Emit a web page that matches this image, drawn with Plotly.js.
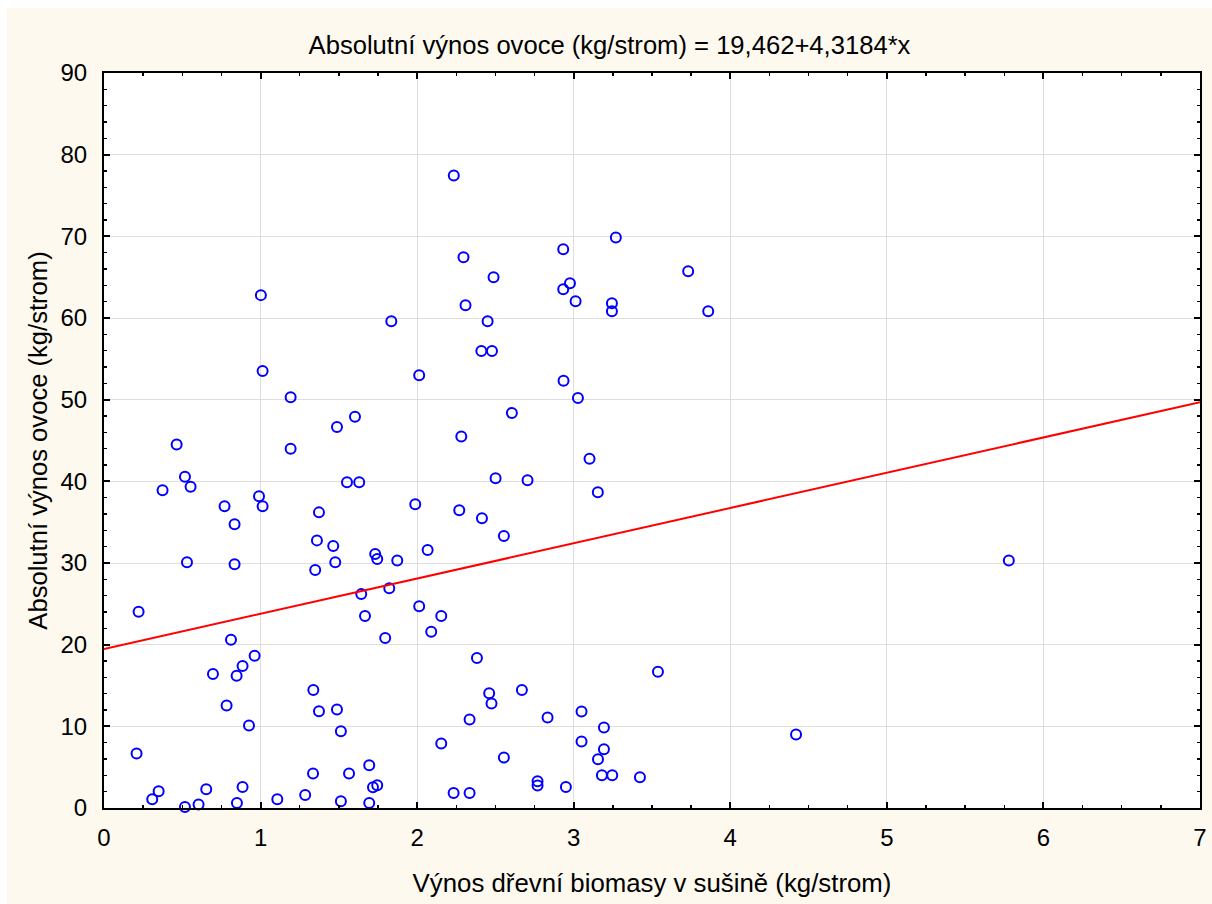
<!DOCTYPE html>
<html>
<head>
<meta charset="utf-8">
<script src="https://cdn.plot.ly/plotly-3.0.1.min.js"></script>
<style>
html,body{margin:0;padding:0;background:#ffffff;width:1212px;height:904px;overflow:hidden;}
#chart{position:absolute;left:7px;top:8px;width:1205px;height:896px;}
</style>
</head>
<body>
<div id="chart"></div>
<script>
// Wood biomass yield (dry matter, kg/tree)
const biomass = [
  2.234, 1.002, 2.296, 2.488, 2.309, 1.835, 2.450, 2.410, 2.478, 1.013,
  2.013, 1.192, 1.603, 1.488, 2.282, 0.464, 1.192, 0.517, 0.374, 0.553,
  1.552, 1.630, 0.990, 1.013, 0.770, 1.988, 2.269, 2.414, 0.834, 1.373,
  1.360, 1.464, 1.732, 1.745, 1.873, 2.067, 0.530, 0.834, 1.477, 1.349,
  1.643, 1.822, 0.221, 2.013, 2.154, 1.667, 2.090, 1.796, 0.811, 0.962,
  0.885, 0.696, 0.847, 2.382, 0.783, 0.926, 1.337, 1.373, 1.488, 1.513,
  2.460, 2.475, 2.335, 2.154, 0.208, 0.349, 0.308, 0.517, 0.604, 0.653,
  0.849, 0.885, 1.107, 1.285, 1.335, 1.565, 1.694, 1.718, 1.745, 1.513,
  1.694, 2.233, 2.335, 3.269, 2.933, 3.731, 2.976, 2.933, 3.012, 3.244,
  3.244, 3.859, 2.935, 3.027, 2.605, 3.101, 2.501, 2.705, 3.154, 2.554,
  3.538, 2.669, 2.833, 3.050, 3.193, 4.420, 3.050, 3.193, 3.155, 2.554,
  3.180, 3.246, 3.423, 2.769, 2.769, 2.950, 5.779
];
// Absolute fruit yield (kg/tree)
const fruitYield = [
  77.45, 62.80, 67.45, 65.00, 61.57, 59.60, 59.60, 55.97, 55.97, 53.50,
  53.00, 50.30, 47.90, 46.65, 45.50, 44.50, 44.00, 40.56, 38.90, 39.34,
  39.88, 39.88, 38.16, 36.94, 36.94, 37.20, 36.45, 35.47, 34.74, 36.20,
  32.77, 32.07, 31.09, 30.50, 30.30, 31.58, 30.10, 29.86, 30.10, 29.13,
  26.19, 26.90, 24.02, 24.70, 23.50, 23.50, 21.57, 20.83, 20.60, 18.63,
  17.40, 16.42, 16.18, 18.38, 12.55, 10.10, 14.46, 11.85, 12.06, 9.40,
  14.04, 12.80, 10.83, 7.89, 6.67, 2.05, 1.07, 0.12, 0.42, 2.29,
  0.61, 2.57, 1.07, 1.59, 4.22, 4.22, 5.23, 2.54, 2.78, 0.82,
  0.61, 1.84, 1.84, 69.85, 68.43, 65.73, 64.26, 63.53, 62.06, 61.81,
  60.83, 60.83, 52.33, 50.20, 48.37, 42.77, 40.37, 40.12, 38.65, 33.30,
  16.67, 14.46, 11.08, 11.81, 9.85, 9.00, 8.14, 7.19, 5.97, 6.18,
  4.00, 4.00, 3.76, 3.27, 2.75, 2.57, 30.30
];
// Regression from the title: y = 19,462 + 4,3184*x
const intercept = 19.462;
const slope = 4.3184;
const lineX = [0, 7];
const lineY = lineX.map(x => intercept + slope * x);

const titleText = 'Absolutní výnos ovoce (kg/strom) = 19,462+4,3184*x';
const xTitle = 'Výnos dřevní biomasy v sušině (kg/strom)';
const yTitle = 'Absolutní výnos ovoce (kg/strom)';

const FONT = 'Liberation Sans, Arial, sans-serif';

const traces = [
  {
    x: biomass, y: fruitYield, type: 'scatter', mode: 'markers',
    marker: {symbol: 'circle-open', size: 10, color: '#0000ff', line: {color: '#0000ff', width: 2}},
    hoverinfo: 'skip', showlegend: false, cliponaxis: false
  },
  {
    x: lineX, y: lineY, type: 'scatter', mode: 'lines',
    line: {color: '#ff0000', width: 2},
    hoverinfo: 'skip', showlegend: false
  }
];

const axisCommon = {
  showline: true, linecolor: '#000000', linewidth: 2, mirror: 'allticks',
  ticks: 'inside', ticklen: 6, tickwidth: 2, tickcolor: '#000000',
  showgrid: true, gridcolor: '#dedede', gridwidth: 1,
  zeroline: false,
  tickfont: {family: FONT, size: 24, color: '#000000'}
};

const layout = {
  width: 1205, height: 896,
  paper_bgcolor: '#fdf9ef', plot_bgcolor: '#ffffff',
  margin: {l: 97, r: 12, t: 65, b: 96, pad: 0},
  title: {text: titleText, font: {family: FONT, size: 25.6, color: '#000000'},
          x: 0.5, xref: 'container', xanchor: 'center', y: 1 - 37/896, yref: 'container', yanchor: 'middle'},
  xaxis: Object.assign({}, axisCommon, {
    range: [0, 7], dtick: 1, tick0: 0,
    ticklabelstandoff: 7,
    minor: {dtick: 0.25, tick0: 0, ticks: 'inside', ticklen: 3, tickwidth: 1.5, tickcolor: '#000000', showgrid: false},
    title: {text: xTitle, font: {family: FONT, size: 25.8, color: '#000000'}, standoff: 24}
  }),
  yaxis: Object.assign({}, axisCommon, {
    range: [0, 90], dtick: 10, tick0: 0,
    ticklabelstandoff: 10,
    minor: {dtick: 2, tick0: 0, ticks: 'inside', ticklen: 3, tickwidth: 1.5, tickcolor: '#000000', showgrid: false},
    title: {text: yTitle, font: {family: FONT, size: 25.6, color: '#000000'}, standoff: 6}
  })
};

Plotly.newPlot('chart', traces, layout, {displayModeBar: false, staticPlot: true});
</script>
</body>
</html>
